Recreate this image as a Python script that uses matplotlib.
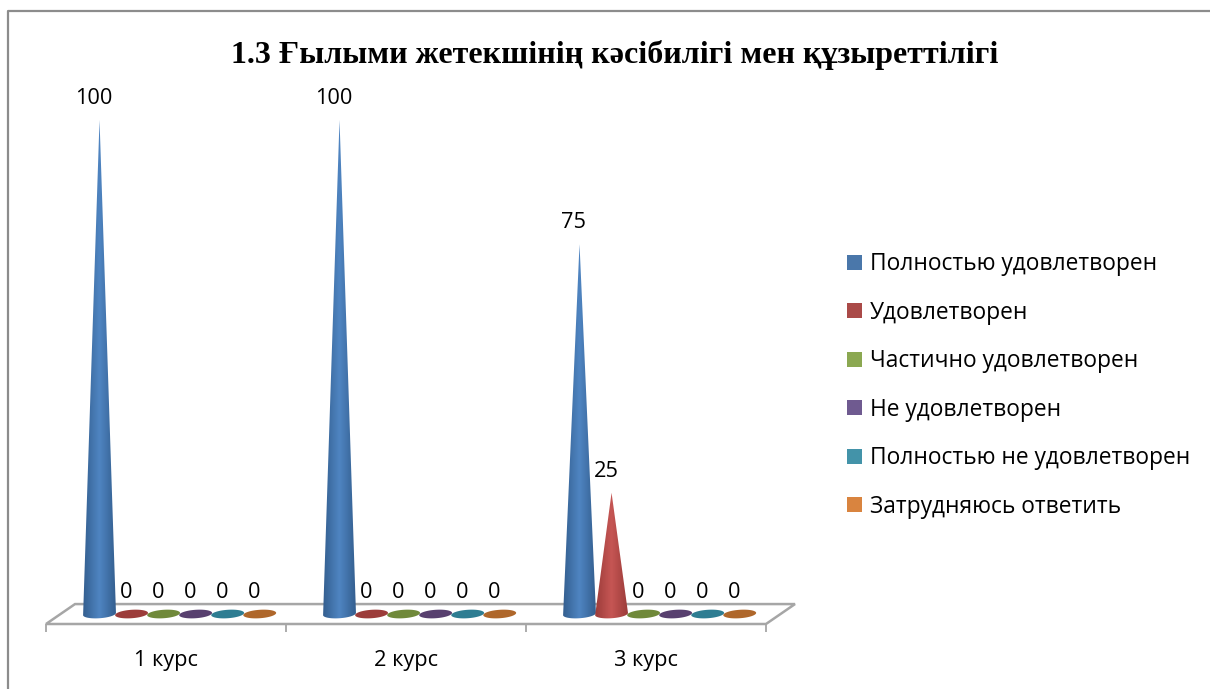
import numpy as np
import matplotlib
matplotlib.use("Agg")
import matplotlib.pyplot as plt
from matplotlib.colors import LinearSegmentedColormap
from matplotlib.lines import Line2D
from matplotlib.patches import Patch, Polygon

title = "1.3 Ғылыми жетекшінің кәсібилігі мен құзыреттілігі"
courses = ["1 курс", "2 курс", "3 курс"]
series_names = ["Полностью удовлетворен", "Удовлетворен", "Частично удовлетворен",
                "Не удовлетворен", "Полностью не удовлетворен", "Затрудняюсь ответить"]
full_sat = [100, 100, 75]
sat = [0, 0, 25]
partly = [0, 0, 0]
not_sat = [0, 0, 0]
full_not = [0, 0, 0]
hard = [0, 0, 0]
series = [full_sat, sat, partly, not_sat, full_not, hard]

legend_colors = ["#4A77AA", "#AA4A48", "#8BA851", "#6F5A90", "#4393A9", "#D9843F"]
edge_colors = ["#345F90", "#9C3C3A", "#70893A", "#58406F", "#2E7D92", "#AF672B"]
mid_colors = ["#4F85C2", "#C65654", "#8BA851", "#6F5A90", "#4393A9", "#D9843F"]

plt.rcParams["font.family"] = ["Open Sans", "DejaVu Sans"]

fig = plt.figure(figsize=(12.1, 6.89), dpi=100)
# the crop only leaves the top and left edge of the chart frame
fig.add_artist(Line2D([7.5 / 1210, 7.5 / 1210, 1], [0, 1 - 11 / 689, 1 - 11 / 689],
                      transform=fig.transFigure, color="#8C8C8C", lw=1.6))

ax = fig.add_axes([46 / 1210, 65 / 689, 748 / 1210, 524 / 689])
xmin, xmax = -0.5, 2.6167
ymin, ymax = -1.41, 104.02
for s in ax.spines.values():
    s.set_visible(False)
ax.patch.set_visible(False)

# 3d floor
depth = 29 / 240
back = 2.6
floor = Polygon([(-0.5, ymin), (2.5, ymin), (2.5 + depth, back), (-0.5 + depth, back)],
                closed=True, fc="white", ec="#A6A6A6", lw=1.8, zorder=1, clip_on=False)
ax.add_patch(floor)

step = 0.1335
first = -0.277
half_w = 0.0685
base_y = 0.6
b = 0.85
tilt = 0.22
t = np.linspace(0, 2 * np.pi, 80)
for i, values in enumerate(series):
    cmap = LinearSegmentedColormap.from_list("c", [edge_colors[i], mid_colors[i], edge_colors[i]])
    for j, v in enumerate(values):
        cx = j + first + i * step
        ex = cx + half_w * np.cos(t)
        ey = base_y + b * np.sin(t) + tilt * np.cos(t)
        if v == 0:
            ax.fill(ex, ey, color=edge_colors[i], lw=0, zorder=3)
            ax.annotate(str(v), (cx, 0), xytext=(-4, 17.3), textcoords="offset points",
                        ha="center", va="center", fontsize=15.7, color="black", zorder=6)
            continue
        # cone outline: apex then the lower half of the base
        low = t[(t >= np.pi) & (t <= 2 * np.pi)]
        px = np.r_[cx, cx + half_w * np.cos(low)]
        py = np.r_[v, base_y + b * np.sin(low) + tilt * np.cos(low)]
        outline = Polygon(np.c_[px, py], closed=True, fc="none", ec="none", transform=ax.transData)
        ax.add_patch(outline)
        img = ax.imshow(np.linspace(0, 1, 64).reshape(1, -1), cmap=cmap, aspect="auto",
                        extent=(cx - half_w, cx + half_w, -1, v), zorder=4, interpolation="bilinear")
        img.set_clip_path(outline)
        ax.annotate(str(v), (cx, v), xytext=(-4, 15.3), textcoords="offset points",
                    ha="center", va="center", fontsize=15.7, color="black", zorder=6)

ax.set_xlim(xmin, xmax)
ax.set_ylim(ymin, ymax)
ax.set_yticks([])
ax.set_xticks([-0.5, 0.5, 1.5, 2.5])
ax.set_xticklabels([])
ax.tick_params(axis="x", which="major", length=6, width=1.3, color="#A6A6A6")
ax.set_xticks([0, 1, 2], minor=True)
ax.set_xticklabels(courses, minor=True, fontsize=15.7)
ax.tick_params(axis="x", which="minor", length=0, pad=19)

fig.text(615 / 1210, 1 - 55 / 689, title, ha="center", va="center", fontsize=23,
         fontweight="bold", family=["Liberation Serif", "DejaVu Serif"])

handles = [Patch(fc=c, ec="none") for c in legend_colors]
fig.legend(handles, series_names, loc="center left", bbox_to_anchor=(847 / 1210, 1 - 385.5 / 689),
           frameon=False, fontsize=16.4, handlelength=0.66, handleheight=0.66,
           handletextpad=0.35, labelspacing=1.075, borderpad=0, borderaxespad=0)

fig.savefig("out.png", dpi=100)
